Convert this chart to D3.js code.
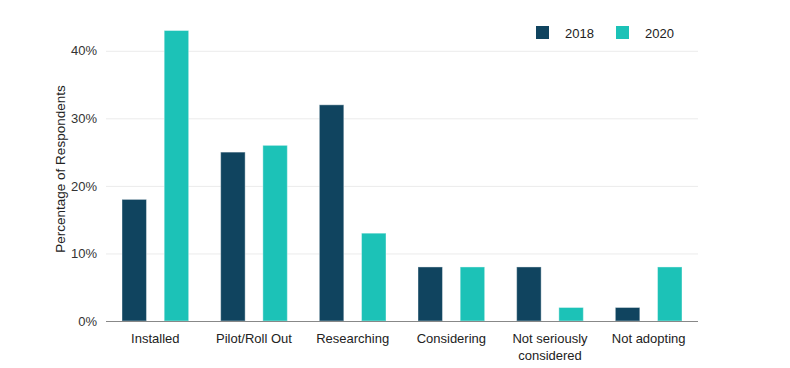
<!DOCTYPE html>
<html>
<head>
<meta charset="utf-8">
<script src="https://cdn.jsdelivr.net/npm/d3@7"></script>
<style>
  body { margin: 0; background: #fff; }
  text { font-family: "Liberation Sans", Arial, Helvetica, sans-serif; }
</style>
</head>
<body>
<svg id="chart" width="790" height="368"></svg>
<script>
// data
var categories = ["Installed", "Pilot/Roll Out", "Researching", "Considering", "Not seriously considered", "Not adopting"];
var categoryLines = [["Installed"], ["Pilot/Roll Out"], ["Researching"], ["Considering"], ["Not seriously", "considered"], ["Not adopting"]];
var series = ["2018", "2020"];
var values2018 = [18, 25, 32, 8, 8, 2];
var values2020 = [43, 26, 13, 8, 2, 8];
var yTicks = [0, 10, 20, 30, 40];
var colors = ["#10445f", "#1cc2b7"];

var svg = d3.select("#chart");
var plotLeft = 106, plotRight = 698, plotTop = 17, plotBottom = 321;

var x0 = d3.scaleBand()
  .domain(categories)
  .range([plotLeft, plotRight])
  .padding(0);

var x1 = d3.scaleBand()
  .domain(series)
  .range([16, x0.bandwidth() - 16])
  .paddingInner(0.42);

var y = d3.scaleLinear()
  .domain([0, 45])
  .range([plotBottom, plotTop]);

// gridlines
svg.append("g")
  .selectAll("line")
  .data(yTicks.slice(1))
  .enter()
  .append("line")
  .attr("x1", plotLeft)
  .attr("x2", plotRight)
  .attr("y1", function(d) { return y(d) + 0.5; })
  .attr("y2", function(d) { return y(d) + 0.5; })
  .attr("stroke", "#ebebeb")
  .attr("stroke-width", 1);

// y axis labels
var yAxis = d3.axisLeft(y)
  .tickValues(yTicks)
  .tickSize(0)
  .tickPadding(9)
  .tickFormat(function(d) { return d + "%"; });

svg.append("g")
  .attr("transform", "translate(" + plotLeft + ",0)")
  .call(yAxis)
  .call(function(g) { g.select(".domain").remove(); })
  .selectAll("text")
  .attr("font-size", 13)
  .attr("fill", "#333")
  .style("font-family", "'Liberation Sans', Arial, sans-serif");

// y axis title
svg.append("text")
  .attr("transform", "translate(65," + ((plotTop + plotBottom) / 2) + ") rotate(-90)")
  .attr("text-anchor", "middle")
  .attr("font-size", 13.5)
  .attr("fill", "#222")
  .text("Percentage of Respondents");

// bars
var rows = categories.map(function(c, i) {
  return { cat: c, vals: [values2018[i], values2020[i]] };
});

var groups = svg.append("g")
  .selectAll("g")
  .data(rows)
  .enter()
  .append("g")
  .attr("transform", function(d) { return "translate(" + x0(d.cat) + ",0)"; });

groups.selectAll("rect")
  .data(function(d) { return d.vals.map(function(v, j) { return { s: series[j], v: v, j: j }; }); })
  .enter()
  .append("rect")
  .attr("x", function(d) { return x1(d.s); })
  .attr("width", x1.bandwidth())
  .attr("y", function(d) { return y(d.v); })
  .attr("height", function(d) { return y(0) - y(d.v); })
  .attr("fill", function(d) { return colors[d.j]; })
  .attr("stroke", "#ffffff")
  .attr("stroke-opacity", 0.4)
  .attr("stroke-width", 1);

// x axis line
svg.append("line")
  .attr("x1", plotLeft)
  .attr("x2", plotRight)
  .attr("y1", y(0) + 0.5)
  .attr("y2", y(0) + 0.5)
  .attr("stroke", "#888")
  .attr("stroke-width", 1.2);

// x labels
var xl = svg.append("g")
  .selectAll("text")
  .data(categories)
  .enter()
  .append("text")
  .attr("x", function(d) { return x0(d) + x0.bandwidth() / 2; })
  .attr("y", 343)
  .attr("text-anchor", "middle")
  .attr("font-size", 13)
  .attr("fill", "#222");

xl.selectAll("tspan")
  .data(function(d) { return categoryLines[categories.indexOf(d)]; })
  .enter()
  .append("tspan")
  .attr("x", function() { var p = d3.select(this.parentNode).datum(); return x0(p) + x0.bandwidth() / 2; })
  .attr("dy", function(d, i) { return i === 0 ? 0 : 17; })
  .text(function(d) { return d; });

// legend
var legend = svg.append("g")
  .selectAll("g")
  .data(series)
  .enter()
  .append("g")
  .attr("transform", function(d, i) { return "translate(" + (536 + i * 80) + ",26)"; });

legend.append("rect")
  .attr("width", 13)
  .attr("height", 13)
  .attr("fill", function(d, i) { return colors[i]; });

legend.append("text")
  .attr("x", 29)
  .attr("y", 11.5)
  .attr("font-size", 13)
  .attr("fill", "#222")
  .text(function(d) { return d; });
</script>
</body>
</html>
